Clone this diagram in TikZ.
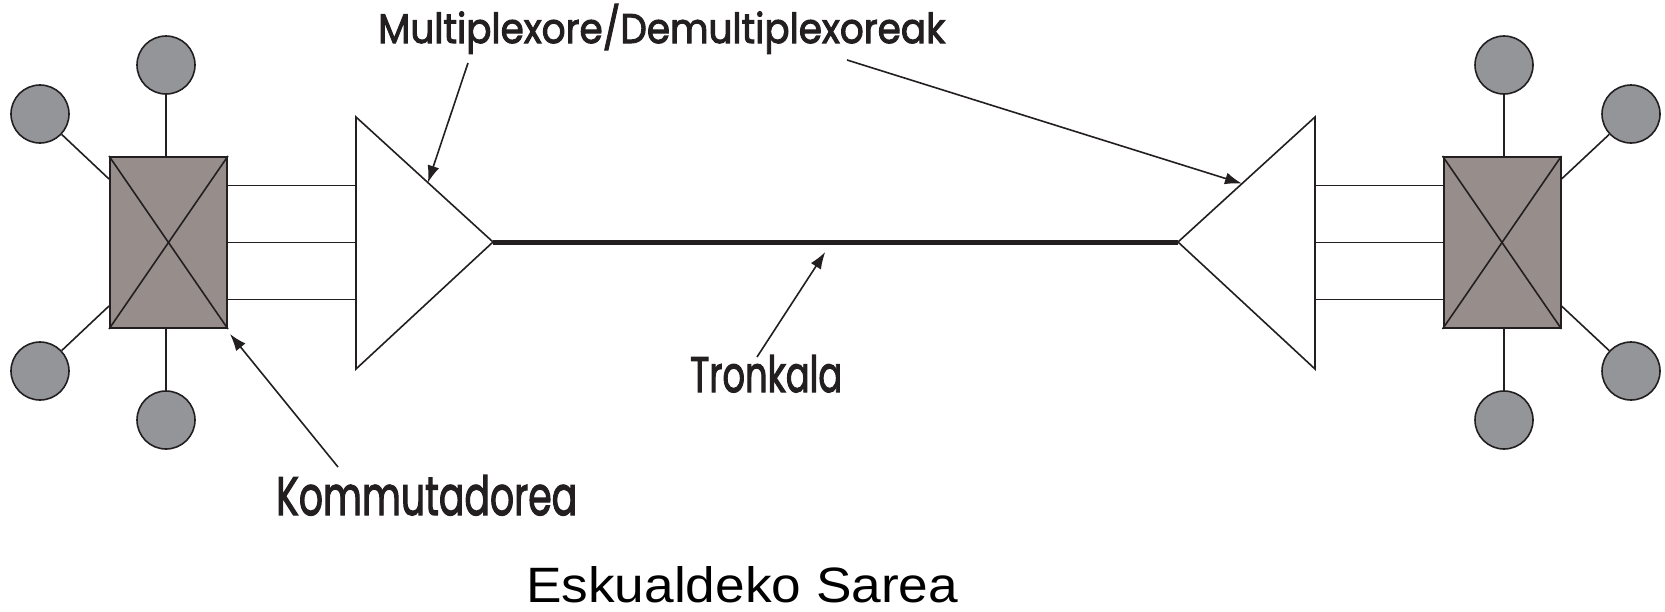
\documentclass[tikz,border=0pt]{standalone}
\usepackage{fontspec}
\usepackage{graphicx}
\usetikzlibrary{arrows.meta,calc}
\newfontface\labfont{Poppins}[FakeBold=2.5]
\newfontfamily\capfont{Liberation Sans}
\definecolor{ink}{HTML}{231F20}
\definecolor{boxfill}{HTML}{978E8C}
\definecolor{circfill}{HTML}{939598}
\tikzset{
  thin line/.style={draw=ink, line width=1.6pt},
  switchbox/.style={rectangle, draw=ink, line width=2pt, fill=boxfill, minimum width=117pt, minimum height=171pt, inner sep=0pt},
  terminal/.style={circle, draw=ink, line width=1.6pt, fill=circfill, minimum size=58pt, inner sep=0pt},
  muxtri/.style={draw=ink, line width=1.6pt, fill=white, line join=miter},
  trunk/.style={draw=ink, line width=5pt},
  arr/.style={draw=ink, line width=1.6pt, -{Latex[length=17pt,width=12pt]}},
  lab/.style={inner sep=0pt, anchor=base west, text=ink}
}
\begin{document}
\begin{tikzpicture}[x=1pt,y=-1pt]
\useasboundingbox (0,0) rectangle (1665,611);
% switches
\node[switchbox] (kL) at (168.5,242.5) {};
\node[switchbox] (kR) at (1502,242.5) {};
\foreach \b in {kL,kR}{
  \draw[thin line] (\b.north west) -- (\b.south east);
  \draw[thin line] (\b.south west) -- (\b.north east);
}
% terminals left
\node[terminal] (cL1) at (166,65) {};
\node[terminal] (cL2) at (40,114) {};
\node[terminal] (cL3) at (40,371) {};
\node[terminal] (cL4) at (166,420) {};
% terminals right
\node[terminal] (cR1) at (1504,65) {};
\node[terminal] (cR2) at (1631,114) {};
\node[terminal] (cR3) at (1631,371) {};
\node[terminal] (cR4) at (1504,420) {};
% terminal links
\draw[thin line] (cL1) -- (cL1 |- kL.north);
\draw[thin line] (cL4) -- (cL4 |- kL.south);
\draw[thin line] (cL2) -- ([yshift=-23pt]kL.north west);
\draw[thin line] (cL3) -- ([yshift=23pt]kL.south west);
\draw[thin line] (cR1) -- (cR1 |- kR.north);
\draw[thin line] (cR4) -- (cR4 |- kR.south);
\draw[thin line] (cR2) -- ([yshift=-23pt]kR.north east);
\draw[thin line] (cR3) -- ([yshift=23pt]kR.south east);
% multiplexers
\coordinate (mLt) at (356,117);
\coordinate (mLb) at (356,369);
\coordinate (mLa) at (493,242);
\coordinate (mRt) at (1315,117);
\coordinate (mRb) at (1315,369);
\coordinate (mRa) at (1178,242);
\draw[muxtri] (mLt) -- (mLa) -- (mLb) -- cycle;
\draw[muxtri] (mRt) -- (mRa) -- (mRb) -- cycle;
% channel lines
\foreach \s in {57,0,-57}{
  \draw[thin line] ([yshift=\s pt]kL.east) -- ([yshift=\s pt]kL.east -| mLt);
  \draw[thin line] ([yshift=\s pt]kR.west) -- ([yshift=\s pt]kR.west -| mRt);
}
% trunk
\draw[trunk] (mLa) -- (mRa);
% labels
\node[lab] (tmux) at (378,43) {\resizebox{567pt}{39pt}{\labfont Multiplexore/Demultiplexoreak}};
\node[lab] (ttrunk) at (690,392) {\resizebox{152pt}{37pt}{\labfont Tronkala}};
\node[lab] (tsw) at (276,515) {\resizebox{301pt}{40pt}{\labfont Kommutadorea}};
\node[lab, text=black] (ttitle) at (526,602) {\resizebox{432pt}{36pt}{\capfont Eskualdeko Sarea}};
% arrow anchors
\coordinate (a1s) at (468,63);
\coordinate (a2s) at (847,60);
\coordinate (a3s) at (757,357);
\coordinate (a4s) at (338,467);
\draw[arr] (a1s) -- ($(mLt)!0.525!(mLa)$);
\draw[arr] (a2s) -- ($(mRt)!0.533!(mRa)$);
\draw[arr] (a3s) -- ([yshift=-10pt]$(mLa)!0.485!(mRa)$);
\draw[arr] (a4s) -- ([shift={(2pt,-5pt)}]kL.south east);
\end{tikzpicture}
\end{document}
